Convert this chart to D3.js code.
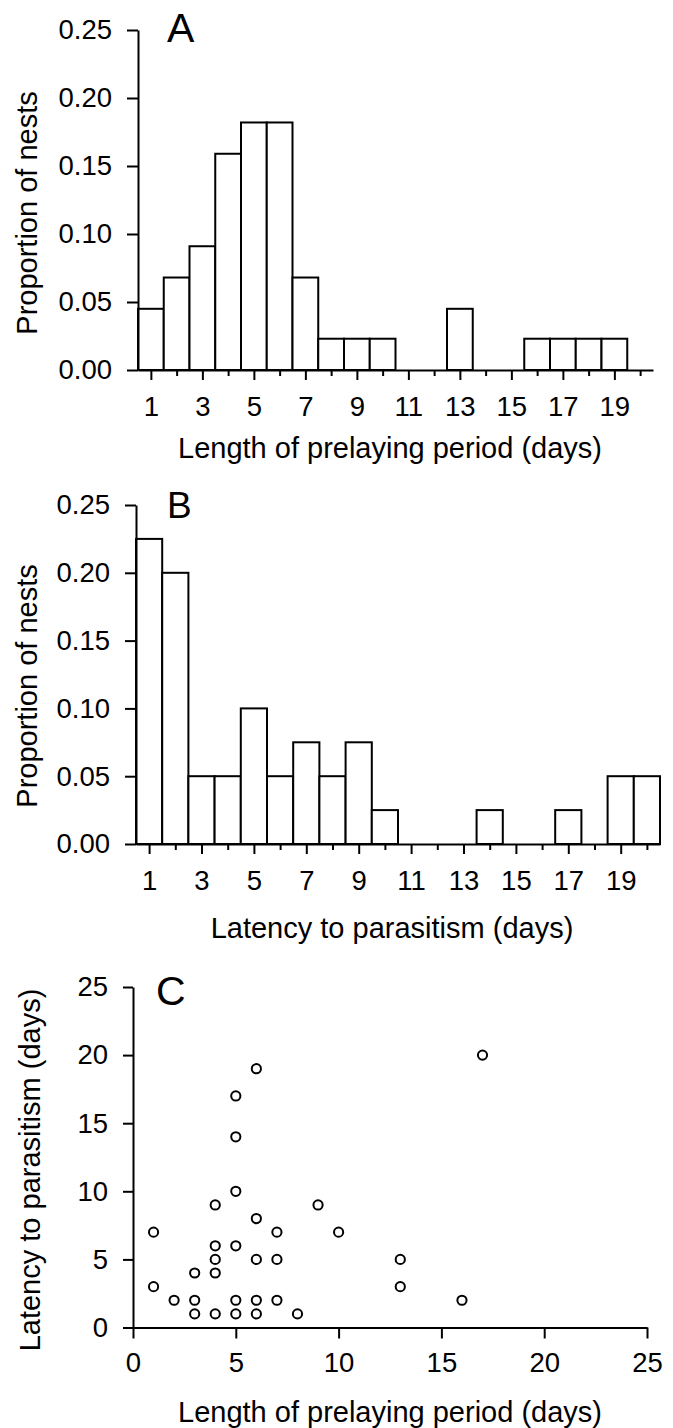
<!DOCTYPE html>
<html>
<head>
<meta charset="utf-8">
<script src="https://cdn.jsdelivr.net/npm/d3@7"></script>
<style>
	body { margin: 0; background: #fff; }
	text { font-family: "Liberation Sans", Arial, sans-serif; fill: #000; }
</style>
</head>
<body>
<div id="graph"></div>
<script>

// panel A: length of prelaying period
var prelayBins = [1,2,3,4,5,6,7,8,9,10,11,12,13,14,15,16,17,18,19];
var prelayProp = [0.045,0.068,0.091,0.159,0.182,0.182,0.068,0.023,0.023,0.023,0,0,0.045,0,0,0.023,0.023,0.023,0.023];

// panel B: latency to parasitism
var latencyBins = [1,2,3,4,5,6,7,8,9,10,11,12,13,14,15,16,17,18,19,20];
var latencyProp = [0.225,0.2,0.05,0.05,0.1,0.05,0.075,0.05,0.075,0.025,0,0,0,0.025,0,0,0.025,0,0.05,0.05];

// panel C: one point per nest (prelaying length, latency)
var nestPrelay  = [1,1,2,3,3,3,4,4,4,4,4,5,5,5,5,5,5,6,6,6,6,6,7,7,7,8,9,10,13,13,16,17];
var nestLatency = [7,3,2,4,2,1,9,6,5,4,1,17,14,10,6,2,1,19,8,5,2,1,7,5,2,1,9,7,5,3,2,20];

// ticks
var dayMajor = [1,3,5,7,9,11,13,15,17,19];
var dayMinor = [2,4,6,8,10,12,14,16,18,20];
var propTicks = [0,0.05,0.10,0.15,0.20,0.25];
var scatterTicks = [0,5,10,15,20,25];


var width = 673, height = 1428;

var svg = d3.select("#graph").append("svg")
	.attr("width", width)
	.attr("height", height);


function style_axis(g){
	g.selectAll("path, line").attr("stroke", "#000").attr("stroke-width", 2);
	g.selectAll("text").attr("font-size", "27.5px").attr("fill", "#000")
		.attr("font-family", "'Liberation Sans', Arial, sans-serif");
}


/**
 *	histogram panel (A and B)
 */
function draw_hist(opt, bins, props){

	var x = d3.scaleLinear().domain([0.5, 20.5]).range([opt.left, opt.right]);
	var y = d3.scaleLinear().domain([0, 0.25]).range([opt.bottom, opt.top]);

	var g = svg.append("g");

	// bars, empty bins skipped
	var data = bins.map(function(d, i){ return { bin: d, p: props[i] }; })
		.filter(function(d){ return d.p > 0; });

	g.selectAll("rect.bar")
		.data(data)
		.enter().append("rect")
		.attr("class", "bar")
		.attr("x", function(d){ return x(d.bin - 0.5); })
		.attr("width", function(d){ return x(d.bin + 0.5) - x(d.bin - 0.5); })
		.attr("y", function(d){ return y(d.p); })
		.attr("height", function(d){ return y(0) - y(d.p); })
		.attr("fill", "#fff")
		.attr("stroke", "#000")
		.attr("stroke-width", 2);

	// minor ticks on even days
	g.append("g")
		.attr("transform", "translate(0," + opt.bottom + ")")
		.call(d3.axisBottom(x).tickValues(dayMinor).tickSize(6).tickSizeOuter(0).tickFormat(""))
		.call(style_axis)
		.select(".domain").remove();

	// major ticks + labels on odd days
	g.append("g")
		.attr("transform", "translate(0," + opt.bottom + ")")
		.call(d3.axisBottom(x).tickValues(dayMajor).tickSize(10).tickSizeOuter(0).tickPadding(16))
		.call(style_axis);

	g.append("g")
		.attr("transform", "translate(" + opt.left + ",0)")
		.call(d3.axisLeft(y).tickValues(propTicks).tickSize(11).tickSizeOuter(0).tickPadding(15)
			.tickFormat(d3.format(".2f")))
		.call(style_axis);

	// titles
	g.append("text")
		.attr("x", opt.xTitleX).attr("y", opt.xTitleY)
		.attr("text-anchor", "middle")
		.attr("font-size", "29px")
		.text(opt.xTitle);

	g.append("text")
		.attr("transform", "translate(" + opt.yTitleX + "," + opt.yTitleY + ") rotate(-90)")
		.attr("text-anchor", "middle")
		.attr("font-size", "29px")
		.text("Proportion of nests");

	g.append("text")
		.attr("x", opt.letterX).attr("y", opt.letterY)
		.attr("font-size", opt.letterSize)
		.text(opt.letter);
}


draw_hist({
	left: 138, right: 653, top: 30, bottom: 370,
	xTitle: "Length of prelaying period (days)", xTitleX: 390, xTitleY: 458,
	yTitleX: 37, yTitleY: 213,
	letter: "A", letterX: 167, letterY: 42, letterSize: "41px"
}, prelayBins, prelayProp);

draw_hist({
	left: 136, right: 660, top: 505, bottom: 844,
	xTitle: "Latency to parasitism (days)", xTitleX: 392, xTitleY: 938,
	yTitleX: 37, yTitleY: 686,
	letter: "B", letterX: 167, letterY: 518, letterSize: "37px"
}, latencyBins, latencyProp);


/**
 *	scatter panel (C)
 */
var cx = d3.scaleLinear().domain([0, 25]).range([133, 647]);
var cy = d3.scaleLinear().domain([0, 25]).range([1327.5, 987]);

var gc = svg.append("g");

gc.append("g")
	.attr("transform", "translate(0," + cy(0) + ")")
	.call(d3.axisBottom(cx).tickValues(scatterTicks).tickSize(11).tickSizeOuter(0).tickPadding(14))
	.call(style_axis);

gc.append("g")
	.attr("transform", "translate(" + cx(0) + ",0)")
	.call(d3.axisLeft(cy).tickValues(scatterTicks).tickSize(10).tickSizeOuter(0).tickPadding(15))
	.call(style_axis);

gc.selectAll("circle")
	.data(nestPrelay)
	.enter().append("circle")
	.attr("cx", function(d){ return cx(d); })
	.attr("cy", function(d, i){ return cy(nestLatency[i]); })
	.attr("r", 4.6)
	.attr("fill", "#fff")
	.attr("stroke", "#000")
	.attr("stroke-width", 2);

gc.append("text")
	.attr("x", 390).attr("y", 1422)
	.attr("text-anchor", "middle")
	.attr("font-size", "29px")
	.text("Length of prelaying period (days)");

gc.append("text")
	.attr("transform", "translate(40,1170) rotate(-90)")
	.attr("text-anchor", "middle")
	.attr("font-size", "29px")
	.text("Latency to parasitism (days)");

gc.append("text")
	.attr("x", 156).attr("y", 1005)
	.attr("font-size", "41px")
	.text("C");

</script>
</body>
</html>
